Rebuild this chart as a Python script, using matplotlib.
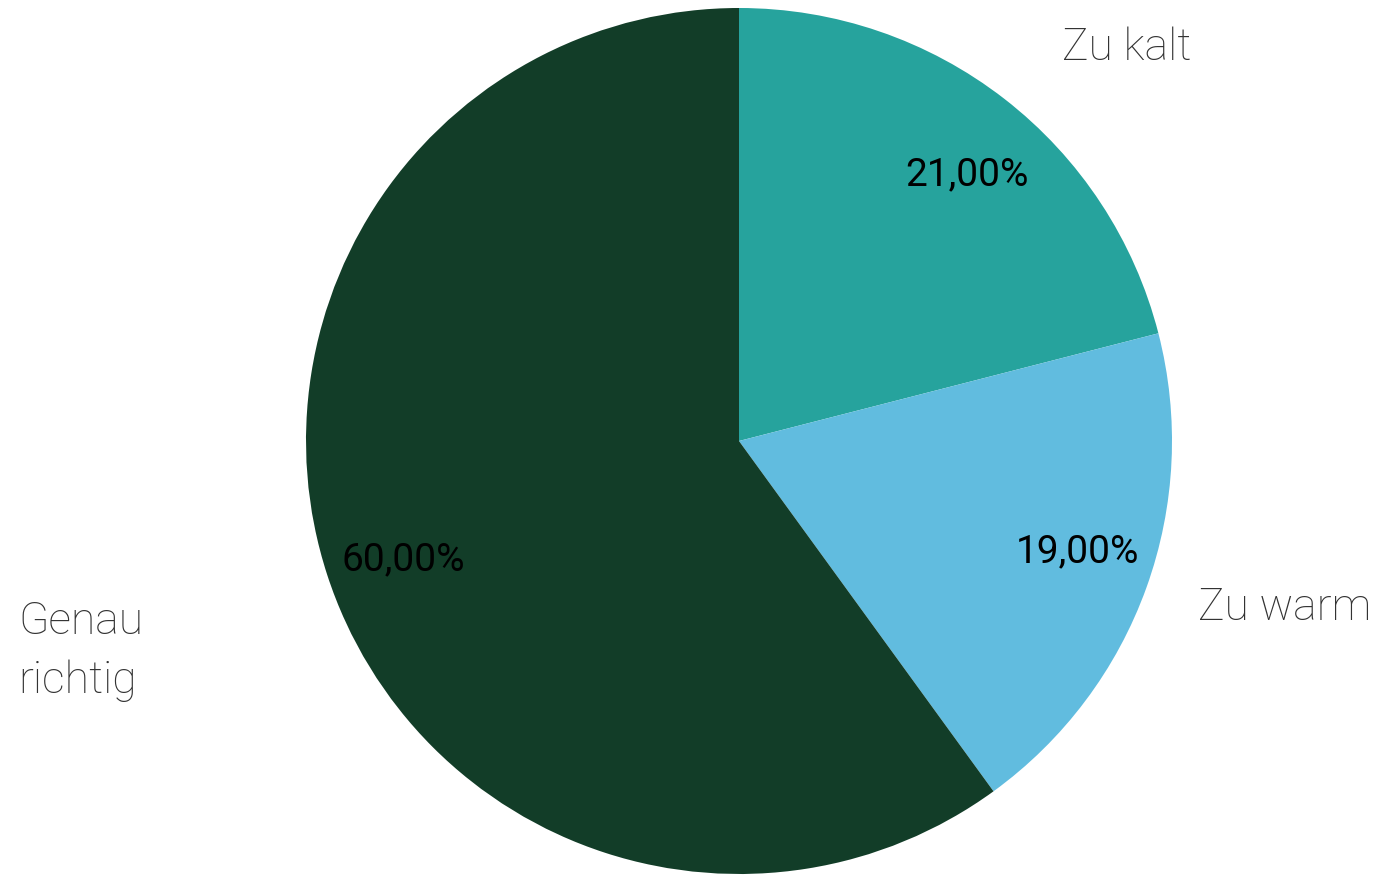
import matplotlib
matplotlib.use("Agg")
import matplotlib.pyplot as plt
import numpy as np

categories = ["Zu kalt", "Zu warm", "Genau\nrichtig"]
values = [21.0, 19.0, 60.0]
colors = ["#26A39D", "#61BCDF", "#123D28"]

W, H = 1378, 879
fig = plt.figure(figsize=(W / 100, H / 100), dpi=100)
cx, cy, r = 739, 442, 433
ax = fig.add_axes([(cx - r) / W, (H - cy - r) / H, 2 * r / W, 2 * r / H])

wedges, texts, autotexts = ax.pie(
    values, colors=colors, startangle=90, counterclock=False,
    autopct=lambda p: f"{p:.2f}%".replace(".", ","), pctdistance=0.82,
    wedgeprops=dict(linewidth=0),
    textprops=dict(fontsize=28, family="Roboto", color="black"),
)
ax.set_xlim(-1, 1)
ax.set_ylim(-1, 1)

# percentage label positions (relative to radius)
pct_pos = [(0.527, 0.617), (0.781, -0.254), (-0.776, -0.273)]
for t, p in zip(autotexts, pct_pos):
    t.set_position(p)

# category label positions (data units, relative to radius)
label_pos = [(0.745, 0.91, "left"), (1.06, -0.382, "left"), (-1.665, -0.483, "left")]
for (x, y, ha), lab in zip(label_pos, categories):
    ax.text(x, y, lab, ha=ha, va="center", fontsize=32, family="Roboto",
            weight="light", color="#333333", linespacing=1.5)

fig.savefig("out.png", dpi=100)
